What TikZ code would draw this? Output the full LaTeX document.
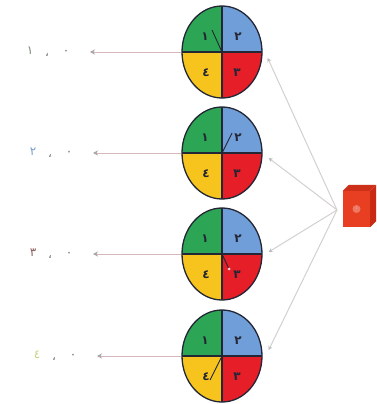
\documentclass[tikz,border=0pt]{standalone}
\usepackage{fontspec}
\newfontfamily\arabicfont[Script=Arabic]{DejaVu Sans}
\usetikzlibrary{shapes.geometric,arrows.meta}
\definecolor{sgreen}{RGB}{44,166,84}
\definecolor{sblue}{RGB}{112,158,216}
\definecolor{sred}{RGB}{230,30,40}
\definecolor{syellow}{RGB}{247,196,30}
\definecolor{sdark}{RGB}{35,38,52}
\definecolor{cubefront}{RGB}{232,62,34}
\definecolor{cubetop}{RGB}{205,48,24}
\definecolor{cubeside}{RGB}{200,42,20}
\definecolor{lpink}{RGB}{214,184,188}
\definecolor{lgray}{RGB}{212,208,208}
\definecolor{zgray}{RGB}{110,110,110}
\definecolor{lab1}{RGB}{122,138,122}
\definecolor{lab2}{RGB}{120,160,205}
\definecolor{lab3}{RGB}{140,95,95}
\definecolor{lab4}{RGB}{200,210,130}
\tikzset{
  spinner/.style={ellipse, draw=sdark, line width=1.3pt, minimum width=80pt, minimum height=92pt, inner sep=0pt,
    path picture={
      \fill[sgreen] (path picture bounding box.center) rectangle (path picture bounding box.north west);
      \fill[sblue] (path picture bounding box.center) rectangle (path picture bounding box.north east);
      \fill[sred] (path picture bounding box.center) rectangle (path picture bounding box.south east);
      \fill[syellow] (path picture bounding box.center) rectangle (path picture bounding box.south west);
      \draw[sdark, line width=1.6pt] (path picture bounding box.north) -- (path picture bounding box.south);
      \draw[sdark, line width=1.6pt] (path picture bounding box.west) -- (path picture bounding box.east);
    }},
  sdigit/.style={font=\arabicfont\bfseries\fontsize{12pt}{12pt}\selectfont, text=sdark, inner sep=0pt},
  ldigit/.style={font=\arabicfont\fontsize{12pt}{12pt}\selectfont, inner sep=0pt},
  pointer/.style={sdark, line width=0.9pt},
  outarrow/.style={lpink, line width=0.8pt, -{Stealth[length=5pt,width=5pt,color=gray!70]}},
  inarrow/.style={lgray, line width=1pt, -{Stealth[length=4pt,width=4pt,color=gray!55]}},
}
\begin{document}
\begin{tikzpicture}[x=1pt,y=-1pt]
\useasboundingbox (0,0) rectangle (376,404);
\fill[white] (0,0) rectangle (376,404);

% spinners
\foreach \i/\yy in {1/52,2/153,3/254,4/356}{
  \node[spinner] (s\i) at (222,\yy) {};
  \node[sdigit] (g\i) at (205,\yy-15) {١};
  \node[sdigit] (b\i) at (238,\yy-15) {٢};
  \node[sdigit] (r\i) at (237,\yy+21) {٣};
  \node[sdigit] (y\i) at (206,\yy+21) {٤};
}
% pointers
\draw[pointer] (s1.center) -- ++(-10,-22);
\draw[pointer] (s2.center) -- ++(10,-20);
\draw[pointer] (s3.center) -- ++(7,15);
\fill[white!80!sred] ([shift={(7pt,-15pt)}]s3.center) circle (1.5pt);
\draw[pointer] (s4.center) -- ++(-12,24);

% cube
\node[rectangle, fill=cubefront, minimum width=27pt, minimum height=36pt, inner sep=0pt] (cube) at (356.5,209) {};
\fill[cubetop] (cube.north west) -- ++(6,-6) -- ([shift={(6pt,6pt)}]cube.north east) -- (cube.north east) -- cycle;
\fill[cubeside] (cube.north east) -- ++(6,-6) -- ([shift={(6pt,6pt)}]cube.south east) -- (cube.south east) -- cycle;
\fill[white!60!cubefront, opacity=0.5] (cube.center) circle (4pt);
\node[font=\arabicfont\fontsize{7pt}{7pt}\selectfont, text=white!80!cubefront, inner sep=0pt] (cz) at (cube.center) {٠};

% connectors from cube to spinners
\coordinate (cj) at (337,210);
\draw[inarrow] (cj) -- ([shift={(5pt,-6pt)}]s1.east);
\draw[inarrow] (cj) -- ([shift={(6pt,-5pt)}]s2.east);
\draw[inarrow] (cj) -- ([shift={(6pt,2pt)}]s3.east);
\draw[inarrow] (cj) -- ([shift={(6pt,6pt)}]s4.east);

% outcome labels
\foreach \i/\yy/\c/\d/\dx in {1/52/lab1/١/30,2/153/lab2/٢/33,3/254/lab3/٣/33,4/356/lab4/٤/37}{
  \coordinate (t\i) at (90+\dx-30,\yy);
  \draw[outarrow] (s\i.west) -- (t\i);
  \node[ldigit, text=\c] (d\i) at (\dx,\yy-1) {\d};
  \node[ldigit, text=zgray] (c\i) at (\dx+17,\yy+3) {،};
  \node[ldigit, text=zgray] (z\i) at (\dx+36,\yy) {٠};
}
\end{tikzpicture}
\end{document}
